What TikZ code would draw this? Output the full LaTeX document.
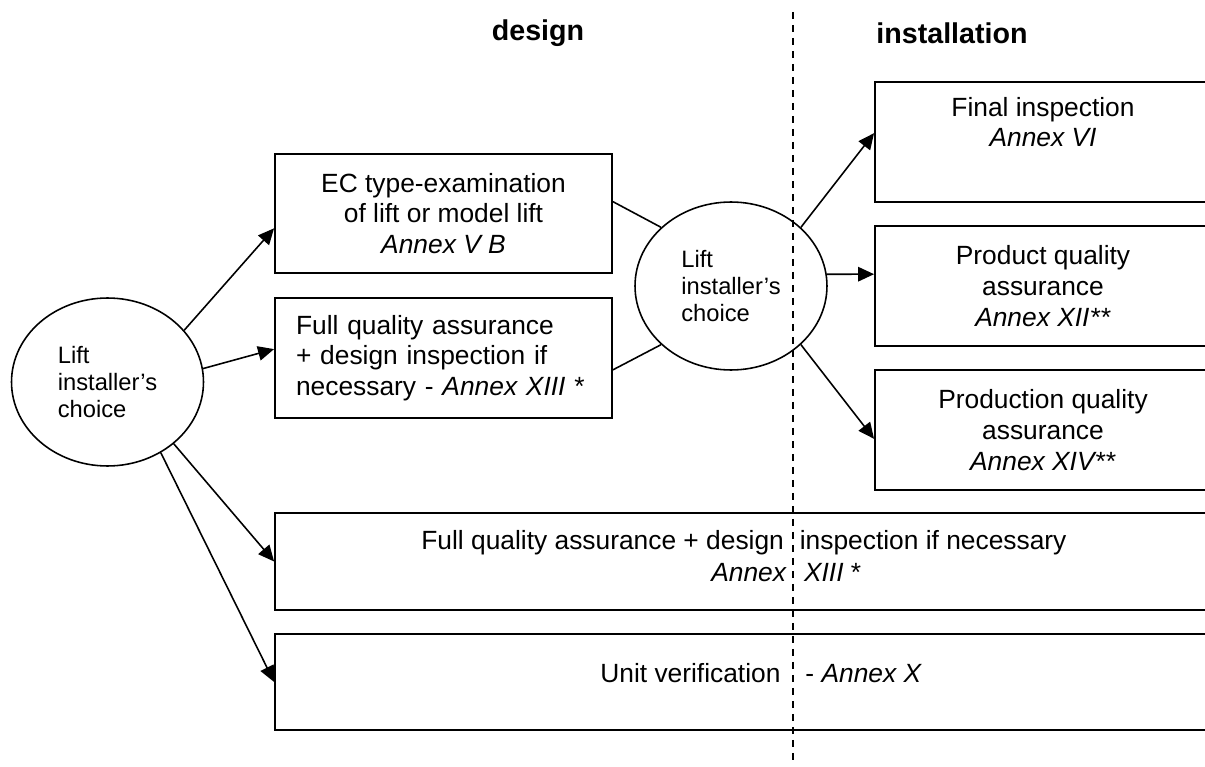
\documentclass[tikz,border=0pt]{standalone}
\usepackage{fontspec}
\setmainfont{Liberation Sans}
\usetikzlibrary{arrows.meta,shapes.geometric}

\begin{document}
\begin{tikzpicture}[x=0.02cm,y=-0.02cm,
  box/.style={draw,line width=1.1pt,rectangle,inner sep=0pt,align=center,
    font=\fontsize{15}{17.5}\selectfont},
  choice/.style={draw,line width=0.9pt,ellipse,minimum width=3.84cm,
    minimum height=3.36cm,inner sep=0pt,align=left,
    font=\fontsize{13.5}{15.6}\selectfont},
  arr/.style={line width=0.9pt,-{Triangle[length=0.32cm,width=0.29cm]}},
  link/.style={line width=0.9pt},
  divider/.style={line width=0.9pt,dash pattern=on 0.14cm off 0.12cm},
  head/.style={font=\fontsize{16.3}{18}\selectfont\bfseries},
  txt/.style={inner sep=0pt,anchor=base west,font=\fontsize{15}{17.5}\selectfont}]
\useasboundingbox (0,0) rectangle (1205,767);
\clip (0,0) rectangle (1205,767);

% column heads
\node[head] (design) at (538,33) {design};
\node[head] (install) at (952,33) {installation};
\coordinate (divtop) at (793,12);
\coordinate (divbot) at (793,762);

% design side
\node[choice] (choiceA) at (107.5,382) {Lift\\installer’s\\choice};
\node[box,minimum width=6.74cm,minimum height=2.38cm] (typeex) at (443.5,213.5)
  {EC type-examination\\of lift or model lift\\\textit{Annex V B}};
\node[box,minimum width=6.74cm,minimum height=2.4cm,align=left,text width=5.9cm]
  (fullqa) at (443.5,358)
  {Full quality assurance\\+ design inspection if\\necessary - \textit{Annex XIII} *};

% installation side
\node[choice] (choiceB) at (731,286) {Lift\\installer’s\\choice};
\node[box,minimum width=6.72cm,minimum height=2.4cm] (finalin) at (1043,142)
  {Final inspection\\\textit{Annex VI}\\\strut};
\node[box,minimum width=6.72cm,minimum height=2.4cm] (prodqa) at (1043,286)
  {Product quality\\assurance\\\textit{Annex XII**}};
\node[box,minimum width=6.72cm,minimum height=2.4cm] (prodnqa) at (1043,430)
  {Production quality\\assurance\\\textit{Annex XIV**}};

% both sides
\node[box,minimum width=18.72cm,minimum height=1.94cm] (fullqaall) at (743,561.5) {};
\node[box,minimum width=18.72cm,minimum height=1.92cm] (unitver) at (743,682) {};
\node[txt] (fqline) at (421,549)
  {Full quality assurance + design\hspace{0.32cm}inspection if necessary};
\node[txt] (fqannex) at (711,581) {\textit{Annex\hspace{0.36cm}XIII} *};
\node[txt] (unitline) at (600,682.5)
  {Unit verification\hspace{0.5cm}- \textit{Annex X}};

% connectors
\draw[arr] (choiceA.34) -- (typeex.185);
\draw[arr] (choiceA.8) -- (fullqa.177);
\draw[arr] (choiceA.-43) -- (fullqaall.west);
\draw[arr] (choiceA.-53) -- (unitver.west);
\draw[link] (typeex.4) -- (choiceB.140);
\draw[link] (fullqa.-4) -- (choiceB.220);
\draw[arr] (choiceB.40) -- (finalin.177);
\draw[arr] (choiceB.7) -- (prodqa.176);
\draw[arr] (choiceB.-40) -- (prodnqa.183);
\draw[divider] (divtop) -- (divbot);
\end{tikzpicture}
\end{document}
